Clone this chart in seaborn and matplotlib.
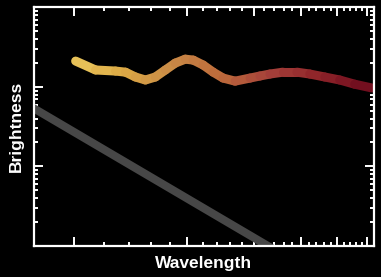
import numpy as np
import pandas as pd
import matplotlib
matplotlib.use("Agg")
import matplotlib.pyplot as plt
import seaborn as sns
from matplotlib.collections import LineCollection
from matplotlib.colors import LinearSegmentedColormap
from matplotlib.ticker import FixedLocator, NullFormatter, LogLocator

# ---- data ----
spec_wavelength = [1.012, 1.143, 1.291, 1.372, 1.458, 1.549, 1.646, 1.750, 1.859,
                   1.976, 2.074, 2.204, 2.343, 2.489, 2.678, 2.934, 3.117, 3.313,
                   3.585, 3.904, 4.225, 4.629, 5.070, 5.554, 6.16]
spec_brightness = [211, 163, 158, 153, 133, 122, 133, 163, 199,
                   223, 217, 188, 153, 129, 118, 129, 137, 145,
                   153, 153, 145, 133, 122, 108, 97]
ref_wavelength = [0.78, 3.5]
ref_brightness = [54.5, 0.83]
x_major_ticks = [1, 2, 3, 4, 5, 6]
x_minor_ticks = [1.2, 1.4, 1.6, 1.8, 2.2, 2.4, 2.6, 2.8, 3.2, 3.4, 3.6, 3.8,
                 4.2, 4.4, 4.6, 4.8, 5.2, 5.4, 5.6, 5.8]

sns.set_style("dark", {"axes.facecolor": "black", "figure.facecolor": "black",
                       "axes.edgecolor": "white", "grid.color": "black"})
plt.rcParams["font.family"] = ["Liberation Sans", "DejaVu Sans"]

fig = plt.figure(figsize=(3.81, 2.77), dpi=100, facecolor="black")
ax = fig.add_axes([34/381, 1-246/277, (374-34)/381, (246-7.3)/277])
ax.set_facecolor("black")
ax.set_xscale("log")
ax.set_yscale("log")

ref_df = pd.DataFrame({"wavelength": ref_wavelength, "brightness": ref_brightness})
sns.lineplot(data=ref_df, x="wavelength", y="brightness", ax=ax,
             color="#474747", linewidth=5.8, solid_capstyle="butt")

cmap = LinearSegmentedColormap.from_list(
    "spec", ["#eac65c", "#dca945", "#c98a46", "#bd6a3b", "#a5403a", "#8e2429", "#6c0b1d"])
pts = np.column_stack([spec_wavelength, spec_brightness])
segs = np.stack([pts[:-1], pts[1:]], axis=1)
lx = np.log10(spec_wavelength)
frac = ((lx[:-1] + lx[1:]) / 2 - lx[0]) / (lx[-1] - lx[0])
lc = LineCollection(segs, colors=cmap(frac), linewidths=6.5,
                    capstyle="round", joinstyle="round")
ax.add_collection(lc)

ax.set_xlim(0.785, 6.25)
ax.set_ylim(1, 1000)
ax.grid(False)

ax.xaxis.set_major_locator(FixedLocator(x_major_ticks))
ax.xaxis.set_minor_locator(FixedLocator(x_minor_ticks))
ax.yaxis.set_major_locator(LogLocator(base=10))
ax.yaxis.set_minor_locator(LogLocator(base=10, subs=np.arange(2, 10)))
for a in (ax.xaxis, ax.yaxis):
    a.set_major_formatter(NullFormatter())
    a.set_minor_formatter(NullFormatter())

ax.tick_params(which="both", direction="in", colors="white", top=True, right=True,
               bottom=True, left=True, labelbottom=False, labelleft=False)
ax.tick_params(which="major", length=6.5, width=1.4)
ax.tick_params(which="minor", length=3.0, width=1.4)
for s in ax.spines.values():
    s.set_color("white")
    s.set_linewidth(1.6)
    s.set_visible(True)

ax.set_xlabel("Wavelength", color="white", fontsize=12.5, fontweight="bold", labelpad=7)
ax.set_ylabel("Brightness", color="white", fontsize=12.5, fontweight="bold", labelpad=7)

fig.savefig("out.png", dpi=100, facecolor="black")
